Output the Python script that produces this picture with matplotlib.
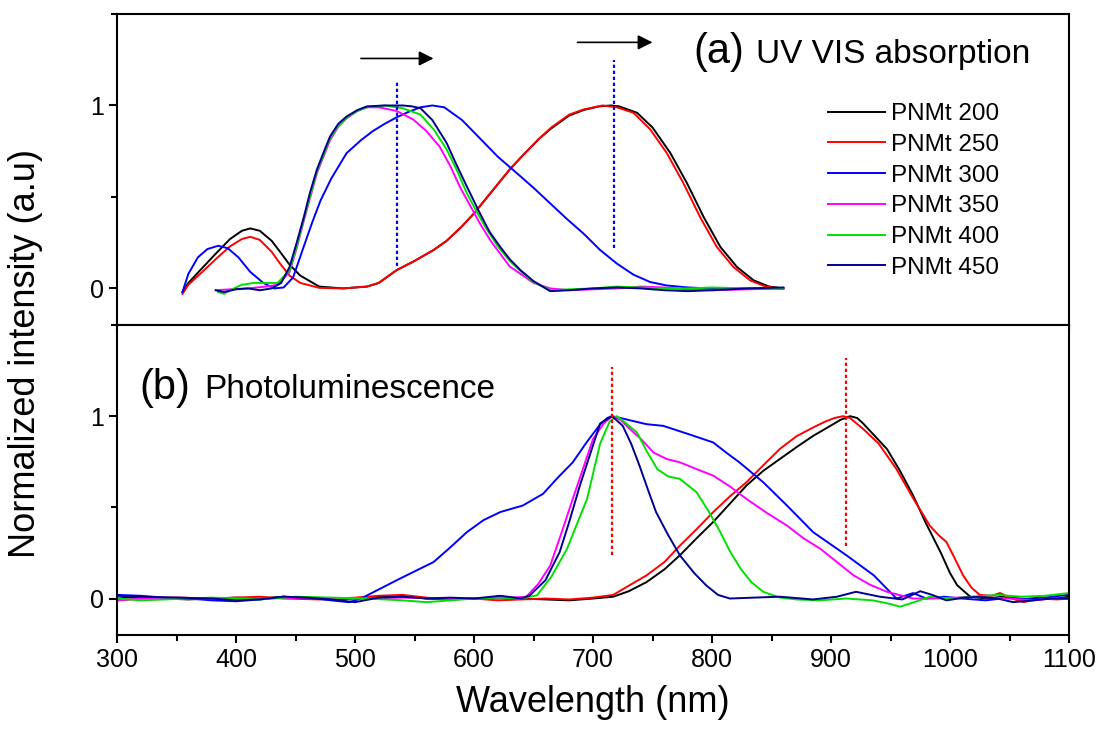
import matplotlib
matplotlib.use("Agg")
import matplotlib.pyplot as plt
from matplotlib.ticker import MultipleLocator

plt.rcParams['font.family'] = ['Liberation Sans', 'DejaVu Sans']

labels = ['PNMt 200', 'PNMt 250', 'PNMt 300', 'PNMt 350', 'PNMt 400', 'PNMt 450']
colors = ['#000000', '#ff0000', '#0000ff', '#ff00ff', '#00e000', '#000090']

# ---- (a) UV-VIS absorption ----
abs_200_x = [355, 360, 370, 383, 395, 405, 412, 420, 430, 437, 445, 454, 470, 490, 510, 520, 535, 550,
             566, 577, 590, 600, 615, 630, 640, 655, 665, 680, 692, 705, 715, 722, 737, 750, 765, 779,
             793, 807, 821, 835, 848, 860]
abs_200_y = [-0.02, 0.03, 0.10, 0.19, 0.27, 0.315, 0.328, 0.315, 0.26, 0.20, 0.13, 0.07, 0.01, 0.0, 0.01,
             0.03, 0.10, 0.15, 0.21, 0.26, 0.34, 0.41, 0.53, 0.65, 0.72, 0.82, 0.875, 0.945, 0.975, 0.995,
             1.0, 0.995, 0.96, 0.88, 0.74, 0.575, 0.39, 0.227, 0.117, 0.044, 0.01, 0.0]

abs_250_x = [355, 360, 370, 383, 395, 405, 412, 420, 430, 437, 445, 454, 470, 490, 510, 520, 535, 550,
             566, 577, 590, 600, 615, 630, 640, 655, 665, 680, 692, 708, 720, 734, 748, 762, 776, 790,
             804, 818, 832, 845, 857]
abs_250_y = [-0.03, 0.02, 0.08, 0.16, 0.23, 0.27, 0.282, 0.265, 0.20, 0.136, 0.07, 0.03, 0.003, 0.0, 0.01,
             0.03, 0.10, 0.15, 0.21, 0.26, 0.34, 0.41, 0.53, 0.65, 0.72, 0.82, 0.88, 0.95, 0.978, 1.0,
             0.99, 0.96, 0.87, 0.74, 0.575, 0.39, 0.227, 0.117, 0.044, 0.01, 0.0]

abs_300_x = [355, 360, 368, 376, 385, 393, 402, 412, 423, 432, 440, 448, 457, 464, 471, 480, 493, 505,
             515, 525, 535, 545, 555, 565, 575, 590, 605, 620, 636, 650, 664, 678, 692, 706, 720, 734,
             748, 762, 780, 800, 830, 860]
abs_300_y = [-0.02, 0.08, 0.17, 0.215, 0.233, 0.22, 0.17, 0.09, 0.03, 0.0, 0.005, 0.06, 0.23, 0.36, 0.48,
             0.60, 0.74, 0.81, 0.86, 0.90, 0.935, 0.965, 0.99, 1.0, 0.99, 0.92, 0.82, 0.72, 0.63, 0.55,
             0.465, 0.38, 0.30, 0.21, 0.136, 0.075, 0.035, 0.016, 0.005, 0.0, 0.0, 0.0]

abs_350_x = [383, 395, 410, 425, 435, 445, 451, 457, 468, 479, 486, 493, 502, 510, 520, 535, 549, 560,
             571, 580, 588, 597, 605, 614, 622, 630, 639, 650, 664, 680, 700, 720, 740, 760, 780, 800,
             830, 860]
abs_350_y = [-0.01, -0.005, 0.0, 0.01, 0.02, 0.09, 0.22, 0.37, 0.63, 0.81, 0.885, 0.93, 0.97, 0.99, 0.99,
             0.97, 0.923, 0.86, 0.776, 0.67, 0.557, 0.45, 0.355, 0.26, 0.19, 0.12, 0.08, 0.03, 0.0, -0.01,
             -0.005, 0.0, 0.01, 0.005, -0.005, -0.01, -0.005, 0.0]

abs_400_x = [385, 390, 395, 405, 415, 425, 435, 445, 451, 457, 468, 479, 486, 493, 502, 510, 525, 540,
             555, 566, 577, 586, 594, 603, 611, 620, 630, 640, 650, 664, 680, 700, 720, 740, 760, 780,
             800, 830, 860]
abs_400_y = [-0.02, -0.03, -0.01, 0.02, 0.03, 0.03, 0.03, 0.10, 0.23, 0.38, 0.64, 0.82, 0.89, 0.935,
             0.97, 0.99, 1.0, 0.985, 0.95, 0.87, 0.76, 0.64, 0.52, 0.41, 0.32, 0.23, 0.15, 0.09, 0.035,
             -0.01, -0.005, 0.0, 0.01, 0.005, 0.0, 0.0, 0.005, 0.0, 0.003]

abs_450_x = [383, 390, 400, 410, 420, 430, 438, 445, 451, 457, 462, 468, 474, 479, 486, 493, 502, 510,
             525, 540, 548, 555, 565, 577, 585, 594, 605, 613, 622, 630, 639, 650, 664, 680, 700, 720,
             740, 760, 780, 800, 830, 860]
abs_450_y = [-0.01, -0.02, -0.005, 0.0, -0.01, 0.0, 0.03, 0.117, 0.25, 0.39, 0.52, 0.65, 0.75, 0.83,
             0.90, 0.94, 0.975, 0.995, 1.0, 1.0, 0.995, 0.985, 0.92, 0.795, 0.68, 0.557, 0.41, 0.31,
             0.227, 0.16, 0.10, 0.04, -0.015, -0.01, 0.0, 0.005, 0.0, -0.01, -0.015, -0.01, 0.0, 0.005]

# ---- (b) Photoluminescence ----
pl_200_x = [300, 320, 340, 360, 380, 400, 420, 440, 460, 480, 500, 520, 540, 560, 580, 600, 620, 640,
            660, 680, 700, 717, 730, 745, 760, 773, 787, 801, 815, 829, 843, 857, 871, 885, 899, 908,
            916, 922, 927, 937, 947, 958, 969, 980, 992, 1000, 1006, 1017, 1030, 1045, 1060, 1075, 1090,
            1100]
pl_200_y = [0.0, 0.01, 0.0, -0.005, 0.0, 0.005, 0.0, 0.01, 0.0, -0.005, 0.0, 0.01, 0.015, 0.0, -0.005,
            0.0, 0.005, 0.0, -0.005, -0.01, 0.0, 0.01, 0.04, 0.09, 0.16, 0.237, 0.33, 0.42, 0.52, 0.62,
            0.70, 0.765, 0.83, 0.892, 0.945, 0.98, 1.0, 0.99, 0.96, 0.89, 0.82, 0.70, 0.565, 0.41, 0.255,
            0.14, 0.073, 0.01, 0.0, 0.01, -0.005, 0.005, 0.0, 0.01]

pl_250_x = [300, 320, 350, 380, 400, 420, 440, 470, 500, 520, 540, 560, 580, 600, 620, 640, 660, 680,
            700, 717, 730, 745, 760, 773, 787, 801, 815, 829, 843, 857, 871, 885, 895, 903, 910, 916,
            927, 940, 955, 969, 983, 990, 997, 1004, 1011, 1018, 1025, 1035, 1042, 1052, 1062, 1075,
            1090, 1100]
pl_250_y = [-0.01, 0.0, 0.005, 0.0, 0.005, 0.01, 0.0, -0.005, 0.005, 0.015, 0.02, 0.005, -0.005, 0.0,
            -0.01, -0.005, 0.0, -0.005, 0.005, 0.02, 0.07, 0.127, 0.20, 0.29, 0.38, 0.474, 0.56, 0.638,
            0.73, 0.82, 0.89, 0.938, 0.97, 0.99, 1.0, 0.99, 0.93, 0.85, 0.71, 0.55, 0.40, 0.35, 0.31,
            0.22, 0.127, 0.06, 0.02, 0.015, 0.03, 0.0, -0.02, 0.0, -0.005, 0.0]

pl_300_x = [300, 320, 340, 360, 380, 400, 420, 440, 460, 480, 495, 505, 520, 538, 552, 566, 580, 594,
            608, 622, 641, 658, 670, 683, 695, 706, 712, 716, 723, 745, 759, 781, 801, 812, 823, 843, 863,
            885, 913, 936, 955, 969, 980, 995, 1010, 1030, 1050, 1070, 1085, 1100]
pl_300_y = [0.02, 0.015, 0.005, 0.0, -0.01, -0.015, -0.005, 0.01, 0.005, -0.01, -0.02, 0.0, 0.05, 0.11,
            0.155, 0.20, 0.28, 0.364, 0.43, 0.474, 0.51, 0.574, 0.66, 0.747, 0.86, 0.955, 0.99, 1.0, 0.99,
            0.956, 0.947, 0.90, 0.856, 0.80, 0.747, 0.638, 0.51, 0.364, 0.237, 0.127, 0.0, 0.03, 0.0,
            0.01, 0.0, -0.01, 0.005, -0.005, 0.01, 0.02]

pl_350_x = [300, 320, 350, 380, 420, 460, 500, 540, 580, 620, 644, 654, 664, 673, 683, 692, 700, 709,
            716, 723, 731, 741, 751, 762, 773, 787, 801, 815, 829, 846, 863, 877, 891, 905, 919, 933,
            947, 969, 990, 1020, 1050, 1070, 1085, 1100]
pl_350_y = [-0.01, 0.0, 0.005, 0.0, 0.0, 0.005, 0.0, 0.005, 0.0, 0.0, 0.01, 0.08, 0.18, 0.35, 0.546,
            0.72, 0.874, 0.96, 1.0, 0.98, 0.93, 0.87, 0.80, 0.765, 0.747, 0.71, 0.674, 0.615, 0.546,
            0.47, 0.40, 0.33, 0.273, 0.20, 0.127, 0.075, 0.037, 0.0, 0.0, 0.01, 0.0, -0.01, 0.0, 0.0]

pl_400_x = [300, 320, 340, 380, 420, 450, 480, 510, 540, 560, 580, 600, 620, 640, 653, 665, 678, 686,
            695, 706, 714, 720, 728, 737, 745, 754, 763, 773, 787, 797, 807, 815, 824, 833, 843, 857,
            871, 890, 913, 935, 950, 958, 970, 983, 1000, 1020, 1040, 1060, 1080, 1100]
pl_400_y = [0.0, -0.01, -0.005, 0.005, -0.005, 0.01, 0.005, 0.0, -0.01, -0.02, -0.01, 0.0, 0.005, 0.0,
            0.018, 0.12, 0.27, 0.40, 0.546, 0.85, 0.97, 1.0, 0.96, 0.91, 0.81, 0.71, 0.67, 0.656, 0.583,
            0.48, 0.364, 0.26, 0.164, 0.09, 0.037, 0.005, -0.005, -0.01, 0.0, -0.01, -0.03, -0.045,
            -0.02, 0.01, 0.0, 0.01, 0.02, 0.01, 0.015, 0.03]

pl_450_x = [300, 320, 350, 380, 400, 420, 440, 460, 480, 500, 520, 540, 560, 580, 600, 622, 640, 647,
            660, 672, 680, 689, 698, 706, 716, 725, 732, 739, 746, 753, 763, 773, 785, 795, 805, 815,
            835, 857, 885, 905, 921, 941, 960, 975, 985, 997, 1012, 1025, 1040, 1053, 1070, 1085, 1100]
pl_450_y = [0.015, 0.01, 0.005, 0.0, -0.01, -0.005, 0.01, 0.005, -0.005, -0.02, 0.005, 0.01, 0.0, 0.005,
            0.0, 0.015, 0.0, 0.018, 0.10, 0.255, 0.42, 0.62, 0.80, 0.96, 1.0, 0.947, 0.85, 0.73, 0.60,
            0.474, 0.35, 0.237, 0.14, 0.073, 0.02, 0.0, 0.005, 0.01, -0.005, 0.01, 0.037, 0.01, -0.005,
            0.04, 0.02, -0.01, 0.005, 0.01, 0.0, -0.02, -0.01, 0.0, 0.0]

abs_series = [(abs_200_x, abs_200_y), (abs_250_x, abs_250_y), (abs_300_x, abs_300_y),
              (abs_350_x, abs_350_y), (abs_400_x, abs_400_y), (abs_450_x, abs_450_y)]
pl_series = [(pl_200_x, pl_200_y), (pl_250_x, pl_250_y), (pl_300_x, pl_300_y),
             (pl_350_x, pl_350_y), (pl_400_x, pl_400_y), (pl_450_x, pl_450_y)]

# peak guide positions (nm)
abs_peak_lines = [535, 718]
pl_peak_lines = [716, 913]

fig = plt.figure(figsize=(11.01, 7.37), dpi=100)
L, R = 117 / 1101, 1069 / 1101
axA = fig.add_axes([L, 1 - 325 / 737, R - L, (325 - 14) / 737])
axB = fig.add_axes([L, 1 - 635 / 737, R - L, (635 - 325) / 737], sharex=axA)

lw = 1.4
for (x, y), c, lab in zip(abs_series, colors, labels):
    axA.plot(x, y, color=c, lw=lw, label=lab, solid_joinstyle='round')
for (x, y), c in zip(pl_series, colors):
    axB.plot(x, y, color=c, lw=lw, solid_joinstyle='round')

# dotted peak guides
dot = (0, (1.5, 1.2))
axA.plot([abs_peak_lines[0]] * 2, [0.125, 1.14], color='#0000ff', lw=1.6, ls=dot)
axA.plot([abs_peak_lines[1]] * 2, [0.22, 1.25], color='#0000ff', lw=1.6, ls=dot)
axB.plot([pl_peak_lines[0]] * 2, [0.24, 1.27], color='#ff0000', lw=1.6, ls=dot)
axB.plot([pl_peak_lines[1]] * 2, [0.29, 1.32], color='#ff0000', lw=1.6, ls=dot)

# arrows
arrow_kw = dict(arrowstyle='-|>', color='k', lw=1.2, mutation_scale=22, shrinkA=0, shrinkB=0)
axA.annotate('', xy=(566, 1.257), xytext=(505, 1.257), arrowprops=arrow_kw)
axA.annotate('', xy=(750, 1.345), xytext=(687, 1.345), arrowprops=arrow_kw)

# panel titles
axA.text(784, 1.29, '(a)', fontsize=30, va='center', ha='left')
axA.text(837, 1.28, 'UV VIS absorption', fontsize=24, va='center', ha='left')
axB.text(319, 1.155, '(b)', fontsize=30, va='center', ha='left')
axB.text(373, 1.145, 'Photoluminescence', fontsize=24, va='center', ha='left')

leg = axA.legend(loc='upper left', bbox_to_anchor=((828 - 117) / 952, (325 - 103) / 311),
                 frameon=False, fontsize=17.5, handlelength=2.35, handletextpad=0.25,
                 labelspacing=0.36, borderpad=0, borderaxespad=0)

for ax in (axA, axB):
    ax.set_xlim(300, 1100)
    ax.set_ylim(-0.2, 1.5)
    ax.xaxis.set_major_locator(MultipleLocator(100))
    ax.xaxis.set_minor_locator(MultipleLocator(50))
    ax.yaxis.set_major_locator(MultipleLocator(1))
    ax.yaxis.set_minor_locator(MultipleLocator(0.5))
    ax.tick_params(which='major', direction='out', length=6, width=1.5, labelsize=18)
    ax.tick_params(which='minor', direction='out', length=4, width=1.5)
    ax.tick_params(top=False, right=False, which='both')
    for s in ax.spines.values():
        s.set_linewidth(1.5)

axA.tick_params(labelbottom=False)
axA.spines['bottom'].set_zorder(5)
fig.text(0.023, 1 - 354 / 737, 'Normalized intensity (a.u)', rotation=90, fontsize=26,
         va='center', ha='center')
axB.set_xlabel('Wavelength (nm)', fontsize=26, labelpad=9)

fig.savefig('out.png', dpi=100)
